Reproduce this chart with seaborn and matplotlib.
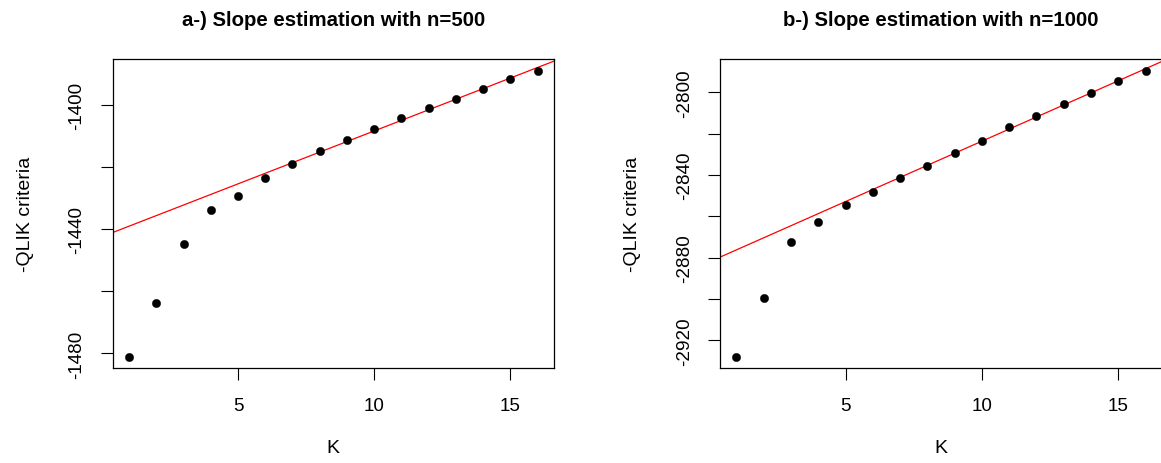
import numpy as np
import pandas as pd
import matplotlib
matplotlib.use("Agg")
import matplotlib.pyplot as plt
import seaborn as sns

# ---- data ----
K = list(range(1, 17))
qlik_500 = [-1481.0, -1463.7, -1444.6, -1433.7, -1429.2, -1423.5, -1419.1, -1414.8,
            -1411.3, -1407.7, -1404.2, -1401.0, -1398.0, -1394.8, -1391.7, -1388.9]
qlik_1000 = [-2927.9, -2899.5, -2872.2, -2862.8, -2854.6, -2848.0, -2841.2, -2835.5,
             -2829.1, -2823.3, -2816.8, -2811.3, -2805.7, -2800.2, -2794.5, -2789.5]
line_500 = (-1442.4, 3.41)     # intercept, slope
line_1000 = (-2882.1, 5.85)
titles = ["a-) Slope estimation with n=500", "b-) Slope estimation with n=1000"]
xticks = [5, 10, 15]
yticks_500 = [-1480, -1460, -1440, -1420, -1400]
ylabels_500 = ["-1480", "", "-1440", "", "-1400"]
yticks_1000 = [-2920, -2900, -2880, -2860, -2840, -2820, -2800]
ylabels_1000 = ["-2920", "", "-2880", "", "-2840", "", "-2800"]
xlabel = "K"
ylabel = "-QLIK criteria"

sns.set_theme(style="white")
plt.rcParams['font.family'] = ['Liberation Sans', 'DejaVu Sans']

W, H = 1161, 464
fig = plt.figure(figsize=(W / 100, H / 100), dpi=100)
ax1 = fig.add_axes([112.7 / W, 95 / H, 441.3 / W, 308.7 / H])
ax2 = fig.add_axes([720 / W, 95 / H, 442 / W, 308.7 / H])

panels = [
    (ax1, qlik_500, line_500, titles[0], yticks_500, ylabels_500),
    (ax2, qlik_1000, line_1000, titles[1], yticks_1000, ylabels_1000),
]

for ax, vals, (b0, b1), title, yt, yl in panels:
    df = pd.DataFrame({"K": K, "QLIK": vals})
    sns.scatterplot(data=df, x="K", y="QLIK", ax=ax, color="black", s=36,
                    edgecolor="black", linewidth=0.3, zorder=3)
    ax.axline((0, b0), slope=b1, color="#FF0000", linewidth=0.9, zorder=2)
    xr = max(K) - min(K)
    ax.set_xlim(min(K) - 0.04 * xr, max(K) + 0.04 * xr)
    yr = max(vals) - min(vals)
    ax.set_ylim(min(vals) - 0.04 * yr, max(vals) + 0.04 * yr)
    ax.set_xticks(xticks)
    ax.set_xticklabels([str(t) for t in xticks])
    ax.set_yticks(yt)
    ax.set_yticklabels(yl, rotation=90, va="center")
    ax.tick_params(axis="both", which="both", direction="out", length=8.6, width=0.8,
                   color="black", labelsize=13.6, labelcolor="black", bottom=True, left=True)
    ax.tick_params(axis="x", pad=12)
    ax.tick_params(axis="y", pad=11)
    for sp in ax.spines.values():
        sp.set_color("black")
        sp.set_linewidth(0.9)
        sp.set_visible(True)
    ax.set_xlabel(xlabel, fontsize=14, labelpad=18, color="black")
    ax.set_ylabel(ylabel, fontsize=14, labelpad=25, color="black")
    ax.set_title(title, fontsize=14.7, fontweight="bold", pad=25, color="black")
    ax.grid(False)

fig.savefig("out.png", dpi=100, facecolor="white")
